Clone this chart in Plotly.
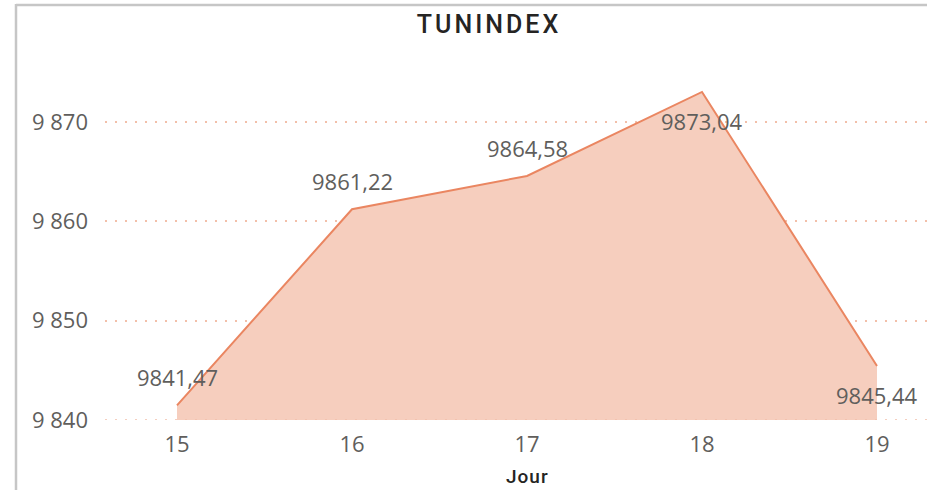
import plotly.graph_objects as go

# ---- data ----
days = [15, 16, 17, 18, 19]
values = [9841.47, 9861.22, 9864.58, 9873.04, 9845.44]
label_side = ["above", "above", "above", "below", "below"]
y_tick_vals = [9840, 9850, 9860, 9870]
y_tick_text = ["9 840", "9 850", "9 860", "9 870"]
title_text = "TUNINDEX"
x_title = "Jour"

W, H = 927, 490
ML, MR, MT, MB = 105, 0, 62, 70
plot_w = W - ML - MR
plot_h = H - MT - MB

line_color = "#EA8661"
fill_color = "#F6CEBE"
grid_color = "#F2BFA9"
tick_color = "#605E5C"
label_color = "#605E5C"
title_color = "#252423"

fig = go.Figure()
fig.add_trace(go.Scatter(
    x=days, y=values, mode="lines", fill="tozeroy",
    line=dict(color=line_color, width=2),
    fillcolor=fill_color, hoverinfo="skip", showlegend=False,
))

annotations = []
for d, v, side in zip(days, values, label_side):
    annotations.append(dict(
        x=d, y=v, xref="x", yref="y",
        text=f"{v:.2f}".replace(".", ","),
        showarrow=False, xanchor="center", yanchor="middle",
        yshift=28 if side == "above" else -29,
        font=dict(family="Open Sans", size=22, color=label_color),
    ))

# x axis title as annotation
annotations.append(dict(
    x=(527 - ML) / plot_w, y=(420 - 476) / plot_h, xref="paper", yref="paper",
    text=f'<span style="letter-spacing:1px">{x_title}</span>',
    showarrow=False, xanchor="center", yanchor="middle",
    font=dict(family="Roboto", size=19, color=title_color, weight=500),
))

frame_color = "#C6C6C6"
shapes = [
    dict(type="line", xref="paper", yref="paper",
         x0=(16 - ML) / plot_w, x1=(16 - ML) / plot_w,
         y0=(420 - 4) / plot_h, y1=(420 - 495) / plot_h,
         line=dict(color=frame_color, width=2.5)),
    dict(type="line", xref="paper", yref="paper",
         x0=(16 - ML) / plot_w, x1=(935 - ML) / plot_w,
         y0=(420 - 5) / plot_h, y1=(420 - 5) / plot_h,
         line=dict(color=frame_color, width=2.5)),
    # bottom grid line drawn above the filled area, as in the reference
    dict(type="line", xref="paper", yref="y", layer="above",
         x0=0, x1=1, y0=y_tick_vals[0], y1=y_tick_vals[0],
         line=dict(color=grid_color, width=1.5, dash="2px,8px")),
]

x_lo = 15 - (177 - ML) / 175
x_hi = 19 + (W - MR - 877) / 175
y_lo = 9840
y_hi = 9840 + plot_h / 9.93

fig.update_layout(
    width=W, height=H,
    margin=dict(l=ML, r=MR, t=MT, b=MB),
    paper_bgcolor="white", plot_bgcolor="white",
    title=dict(text=f'<span style="letter-spacing:3px">{title_text}</span>',
               x=489 / W, xref="container", xanchor="center",
               y=1 - 24 / H, yref="container", yanchor="middle",
               font=dict(family="Roboto", size=25, color=title_color, weight=500)),
    xaxis=dict(range=[x_lo, x_hi], tickvals=days, ticktext=[str(d) for d in days],
               showgrid=False, zeroline=False, showline=False, ticks="",
               ticklabelstandoff=9,
               tickfont=dict(family="Open Sans", size=22, color=tick_color)),
    yaxis=dict(range=[y_lo, y_hi], tickvals=y_tick_vals, ticktext=y_tick_text,
               showgrid=True, gridcolor=grid_color, gridwidth=1.5, griddash="2px,8px",
               zeroline=False, showline=False, ticks="", ticklabelstandoff=16,
               tickfont=dict(family="Open Sans", size=22, color=tick_color)),
    annotations=annotations,
    shapes=shapes,
)

fig.write_html(
    "out.html",
    config={"displayModeBar": False},
    post_script="document.body.style.margin='0px';document.body.style.overflow='hidden';",
)
